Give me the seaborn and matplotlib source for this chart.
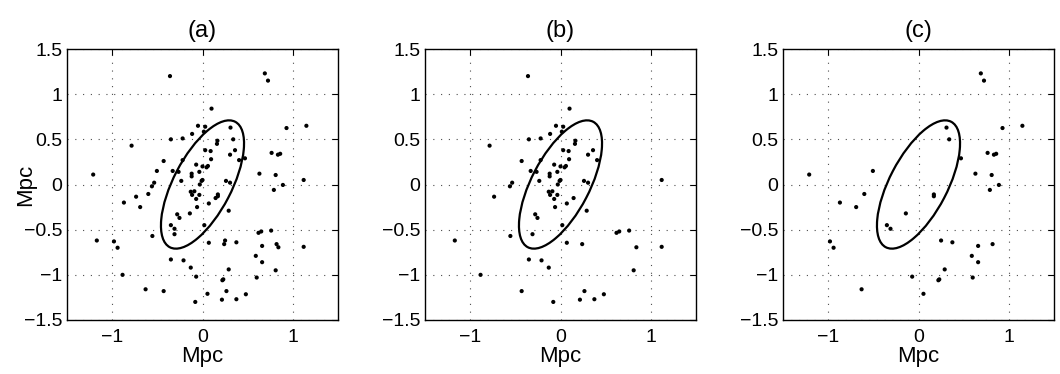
import numpy as np
import pandas as pd
import matplotlib
matplotlib.use("Agg")
import matplotlib.pyplot as plt
from matplotlib.patches import Ellipse
import seaborn as sns

# ==========================
# DATA
# ==========================

# points shown in panel (b)
b_x = [-0.36, -0.785, -0.35, -0.22, -0.05, 0.03, 0.10, -0.115, 0.015, 0.165,
       0.16, 0.03, 0.09, 0.36, 0.305, 0.405, 0.095, -0.43, -0.22, -0.07,
       0.0, 0.06, 0.045, -0.33, -0.265, -0.12, -0.12, -0.035, -0.235, -0.535,
       -0.56, 0.26, 0.305, 0.0, -0.01, -0.03, -0.735, -0.13, -0.115, -0.09,
       -0.035, -0.07, -0.06, 0.145, 0.07, 0.29, -0.28, -0.255, 0.02, -0.31,
       -0.555, -1.17, 0.07, 0.24, -0.35, -0.21, -0.13, -0.885, -0.43, -0.08,
       0.265, 0.215, 0.375, 0.48, 0.62, 0.65, 0.76, 0.84, 0.81, 1.12, 1.12]
b_y = [1.20, 0.43, 0.50, 0.51, 0.65, 0.64, 0.84, 0.56, 0.585, 0.485,
       0.45, 0.38, 0.37, 0.38, 0.33, 0.27, 0.28, 0.26, 0.27, 0.22,
       0.20, 0.205, 0.19, 0.15, 0.14, 0.12, 0.09, 0.14, 0.04, 0.02,
       -0.02, 0.04, 0.02, 0.05, 0.04, 0.0, -0.135, -0.08, -0.115, -0.075,
       -0.115, -0.16, -0.25, -0.15, -0.21, -0.29, -0.33, -0.37, -0.45, -0.55,
       -0.57, -0.62, -0.645, -0.66, -0.83, -0.84, -0.92, -1.0, -1.18, -1.30,
       -1.18, -1.275, -1.27, -1.215, -0.535, -0.52, -0.51, -0.695, -0.95, -0.69, 0.05]

# points shown in panel (c)
c_x = [-1.21, -0.505, 0.31, 0.34, 0.47, -0.87, -0.69, -0.60, -0.98, -0.94,
       -0.63, -0.35, -0.31, -0.14, 0.17, 0.17, -0.07, 0.055, 0.25, 0.375,
       0.29, 0.22, 0.23, 0.69, 0.725, 0.93, 1.15, 0.765, 0.835, 0.86,
       0.63, 0.81, 0.79, 0.89, 0.66, 0.82, 0.59, 0.66, 0.60]
c_y = [0.11, 0.15, 0.63, 0.50, 0.29, -0.20, -0.25, -0.105, -0.63, -0.70,
       -1.16, -0.45, -0.49, -0.32, -0.11, -0.13, -1.02, -1.21, -0.62, -0.64,
       -0.94, -1.06, -1.05, 1.23, 1.15, 0.625, 0.65, 0.35, 0.33, 0.34,
       0.12, 0.105, -0.06, -0.005, -0.68, -0.66, -0.79, -0.86, -1.03]

# panel (a) shows all points
a_x = b_x + c_x
a_y = b_y + c_y

panels = ["(a)", "(b)", "(c)"]
x_ticks = [-1, 0, 1]
y_ticks = [-1.5, -1, -0.5, 0, 0.5, 1, 1.5]
y_ticklabels = ["\u22121.5", "\u22121", "\u22120.5", "0", "0.5", "1", "1.5"]

# ellipse (centre, full axes, angle in degrees)
ell_center = (0.0, 0.0)
ell_width = 1.566
ell_height = 0.641
ell_angle = 62.5

# ==========================
# PLOT
# ==========================

sns.set_style("white")
plt.rcParams["font.family"] = ["Liberation Sans", "DejaVu Sans"]
plt.rcParams["text.color"] = "black"
plt.rcParams["axes.labelcolor"] = "black"

fig = plt.figure(figsize=(10.6, 3.74), dpi=100)

lefts = [67, 425, 783]
data = [(a_x, a_y), (b_x, b_y), (c_x, c_y)]

for i, (xs, ys) in enumerate(data):
    ax = fig.add_axes([lefts[i] / 1060, 54 / 374, 271 / 1060, 271 / 374])
    df = pd.DataFrame({"x": xs, "y": ys})
    sns.scatterplot(data=df, x="x", y="y", ax=ax, color="black",
                    s=9, edgecolor="none", linewidth=0, zorder=3)
    ax.add_patch(Ellipse(ell_center, ell_width, ell_height, angle=ell_angle,
                         fill=False, edgecolor="black", lw=1.6, zorder=4))
    ax.set_xlim(-1.5, 1.5)
    ax.set_ylim(-1.5, 1.5)
    ax.set_xticks(x_ticks)
    ax.set_yticks(y_ticks)
    ax.set_yticklabels(y_ticklabels)
    ax.grid(True, color="0.3", linestyle=(0, (1, 6)), linewidth=0.8)
    ax.tick_params(direction="in", length=4, width=0.8, top=True, right=True,
                   labelsize=14, colors="black")
    ax.tick_params(axis="x", pad=6.5)
    ax.tick_params(axis="y", pad=3.5)
    for sp in ax.spines.values():
        sp.set_color("black")
        sp.set_linewidth(1.0)
    ax.set_title(panels[i], fontsize=17, pad=9, color="black")
    ax.set_xlabel("Mpc", fontsize=16, color="black")
    ax.xaxis.set_label_coords(0.5, -0.097)
    if i == 0:
        ax.set_ylabel("Mpc", fontsize=16, color="black")
        ax.yaxis.set_label_coords(-0.115, 0.5)
    else:
        ax.set_ylabel("")

plt.savefig("out.png", dpi=100)
plt.close()
